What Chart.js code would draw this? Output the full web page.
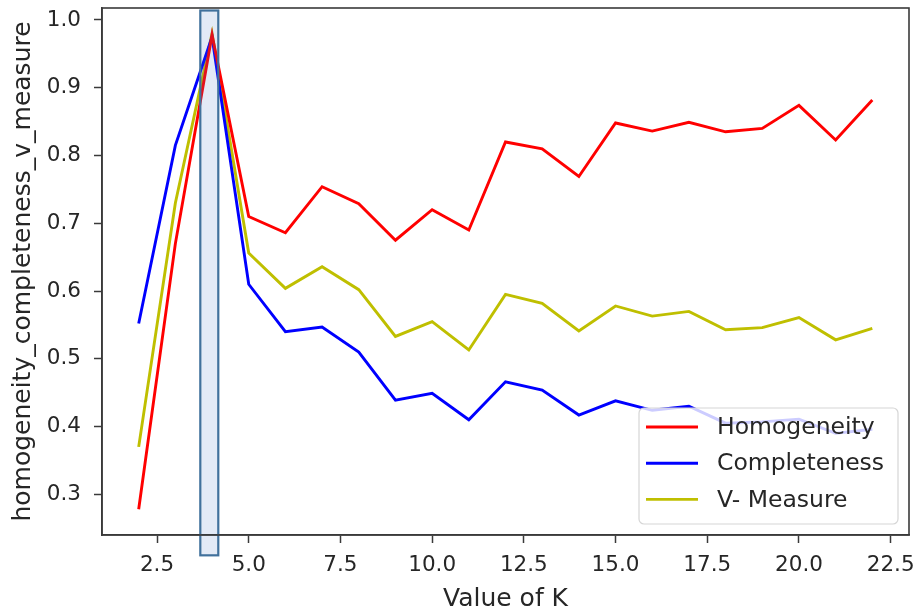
<!DOCTYPE html>
<html>
<head>
<meta charset="utf-8">
<script src="https://cdn.jsdelivr.net/npm/chart.js"></script>
<style>
  html, body { margin: 0; padding: 0; background: #fff; }
  #wrap { width: 916px; height: 614px; }
</style>
</head>
<body>
<div id="wrap"><canvas id="chart" width="916" height="614"></canvas></div>
<script>
// values of K and the three clustering scores
const kValues = [2, 3, 4, 5, 6, 7, 8, 9, 10, 11, 12, 13, 14, 15, 16, 17, 18, 19, 20, 21, 22];
const homogeneity = [0.278, 0.670, 0.978, 0.710, 0.686, 0.754, 0.729, 0.675, 0.720, 0.690, 0.820,
  0.810, 0.769, 0.848, 0.836, 0.849, 0.835, 0.840, 0.874, 0.823, 0.882];
const completeness = [0.552, 0.815, 0.975, 0.610, 0.540, 0.547, 0.510, 0.439, 0.449, 0.410, 0.466,
  0.454, 0.417, 0.438, 0.424, 0.430, 0.405, 0.407, 0.411, 0.390, 0.396];
const vMeasure = [0.370, 0.730, 0.980, 0.656, 0.604, 0.636, 0.602, 0.533, 0.555, 0.513, 0.595,
  0.582, 0.541, 0.578, 0.563, 0.570, 0.543, 0.546, 0.561, 0.528, 0.545];

const seriesNames = ["Homogeneity", "Completeness", "V- Measure"];
const seriesColors = ["#ff0000", "#0000ff", "#bfbf00"];
const xTicks = [2.5, 5, 7.5, 10, 12.5, 15, 17.5, 20, 22.5];
const yTicks = [0.3, 0.4, 0.5, 0.6, 0.7, 0.8, 0.9, 1.0];

// box drawn round the best K (data units)
const highlight = { xMin: 3.68, xMax: 4.17, yMin: 0.21, yMax: 1.014 };

const FONT = "DejaVu Sans";
const TEXT = "#262626";
const AXIS = "#3a3a3a";

const allSeries = [homogeneity, completeness, vMeasure];
const datasets = allSeries.map(function (vals, i) {
  return {
    label: seriesNames[i],
    data: kValues.map((k, j) => ({ x: k, y: vals[j] })),
    borderColor: seriesColors[i],
    backgroundColor: seriesColors[i],
    borderWidth: 2.9,
    pointRadius: 0,
    tension: 0,
    fill: false
  };
});

const framePlugin = {
  id: "frame",
  afterDraw(chart) {
    const ctx = chart.ctx;
    const a = chart.chartArea;
    const xs = chart.scales.x, ys = chart.scales.y;

    // highlight rectangle
    const x1 = xs.getPixelForValue(highlight.xMin);
    const x2 = xs.getPixelForValue(highlight.xMax);
    const y1 = ys.getPixelForValue(highlight.yMax);
    const y2 = ys.getPixelForValue(highlight.yMin);
    ctx.save();
    ctx.fillStyle = "rgba(68,114,196,0.15)";
    ctx.fillRect(x1, y1, x2 - x1, y2 - y1);
    ctx.strokeStyle = "#41719c";
    ctx.lineWidth = 2.2;
    ctx.strokeRect(x1, y1, x2 - x1, y2 - y1);
    ctx.restore();

    // axes frame on all four sides
    ctx.save();
    ctx.strokeStyle = AXIS;
    ctx.lineWidth = 1.6;
    ctx.strokeRect(a.left, a.top, a.right - a.left, a.bottom - a.top);
    ctx.restore();

    // legend, lower right
    const w = 259, h = 116;
    const lx = a.right - 11 - w;
    const ly = a.bottom - 11 - h;
    ctx.save();
    ctx.beginPath();
    ctx.roundRect(lx, ly, w, h, 5);
    ctx.fillStyle = "rgba(255,255,255,0.8)";
    ctx.fill();
    ctx.strokeStyle = "#d6d6d6";
    ctx.lineWidth = 1.2;
    ctx.stroke();
    ctx.font = "23.5px '" + FONT + "'";
    ctx.textBaseline = "middle";
    ctx.fillStyle = TEXT;
    chart.data.datasets.forEach(function (ds, i) {
      const ry = ly + 19 + i * 36.2;
      ctx.beginPath();
      ctx.moveTo(lx + 7, ry);
      ctx.lineTo(lx + 59, ry);
      ctx.strokeStyle = ds.borderColor;
      ctx.lineWidth = 2.9;
      ctx.stroke();
      ctx.fillText(ds.label, lx + 78, ry + 1);
    });
    ctx.restore();
  }
};

new Chart(document.getElementById("chart"), {
  type: "line",
  data: { datasets: datasets },
  options: {
    responsive: false,
    animation: false,
    devicePixelRatio: 1,
    layout: { padding: { top: 8, right: 7, left: 0, bottom: 0 } },
    plugins: {
      legend: { display: false },
      tooltip: { enabled: false }
    },
    scales: {
      x: {
        type: "linear",
        min: 1,
        max: 23,
        afterBuildTicks: (s) => { s.ticks = xTicks.map(v => ({ value: v })); },
        afterFit: (s) => { s.height = 79; s.paddingLeft = 0; s.paddingRight = 0; },
        grid: { drawOnChartArea: false, tickLength: 8, tickColor: AXIS, tickWidth: 1.5 },
        border: { display: true, color: AXIS, width: 1.6 },
        ticks: {
          autoSkip: false, maxRotation: 0, padding: 10,
          color: TEXT, font: { family: FONT, size: 21.5 },
          callback: (v) => Number(v).toFixed(1)
        },
        title: {
          display: true, text: "Value of K", color: TEXT,
          font: { family: FONT, size: 25 }, padding: { top: 0, bottom: 0 }
        }
      },
      y: {
        type: "linear",
        min: 0.24,
        max: 1.0177,
        afterBuildTicks: (s) => { s.ticks = yTicks.map(v => ({ value: v })); },
        afterFit: (s) => { s.width = 102; s.paddingTop = 0; s.paddingBottom = 0; },
        grid: { drawOnChartArea: false, tickLength: 8, tickColor: AXIS, tickWidth: 1.5 },
        border: { display: true, color: AXIS, width: 1.6 },
        ticks: {
          autoSkip: false, padding: 13,
          color: TEXT, font: { family: FONT, size: 21.5 },
          callback: (v) => Number(v).toFixed(1)
        },
        title: {
          display: true, text: "homogeneity_completeness_v_measure", color: TEXT,
          font: { family: FONT, size: 25 }, padding: { top: 8, bottom: 0 }
        }
      }
    }
  },
  plugins: [framePlugin]
});
</script>
</body>
</html>
